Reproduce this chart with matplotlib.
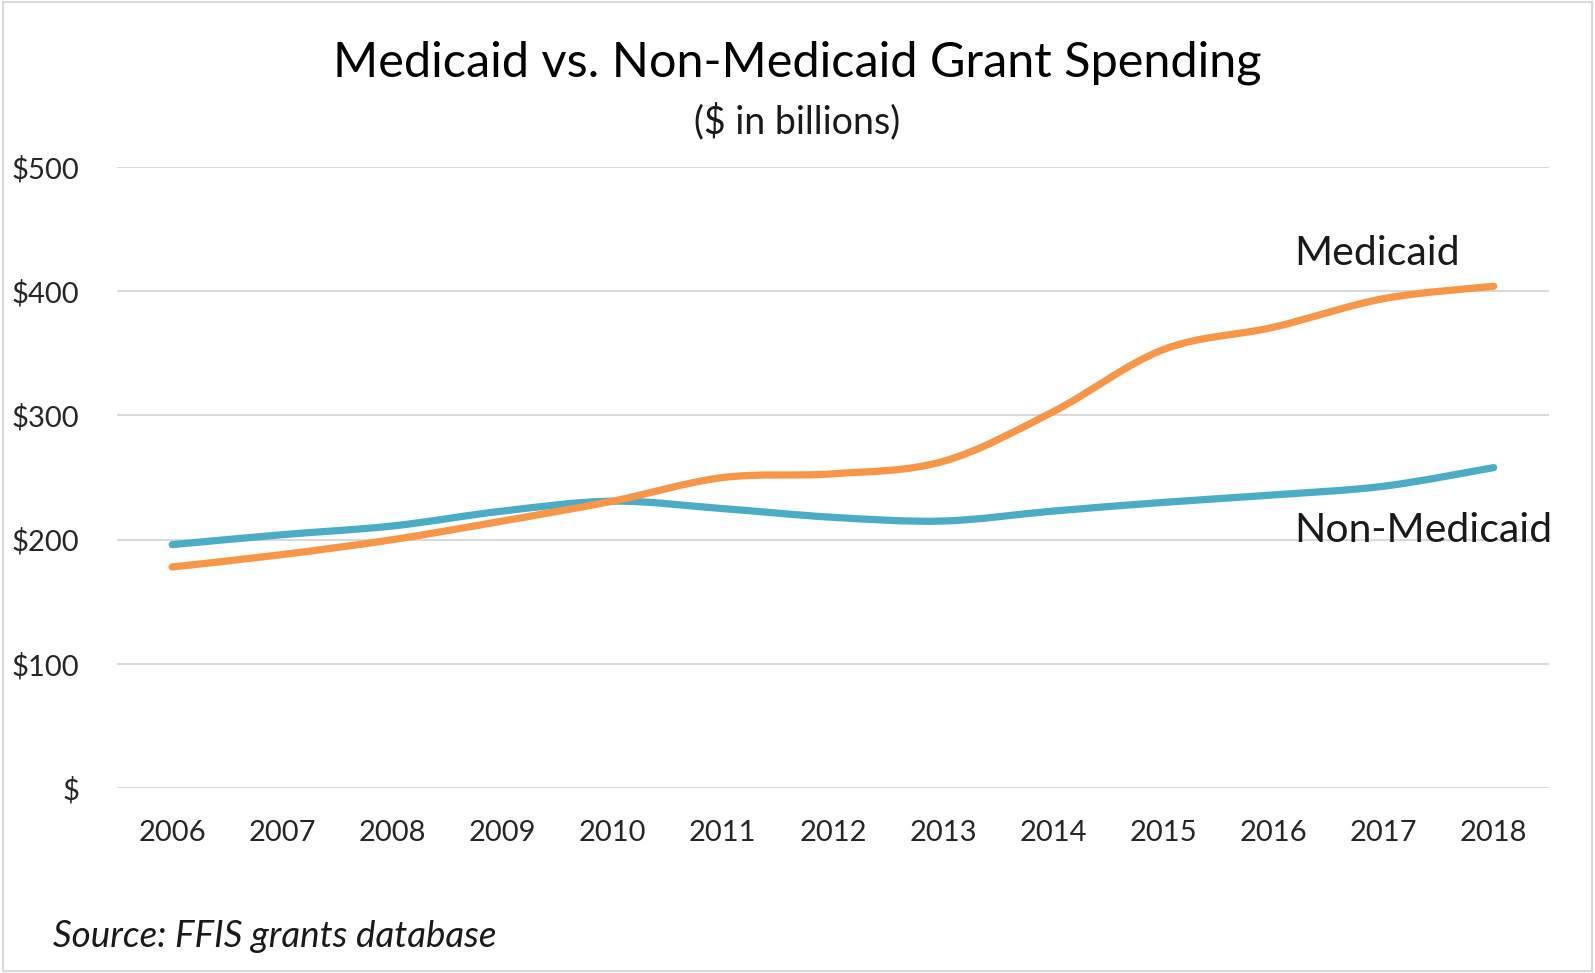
import numpy as np
import matplotlib
matplotlib.use("Agg")
import matplotlib.pyplot as plt
from matplotlib.path import Path
from matplotlib.patches import PathPatch, Rectangle

plt.rcParams['font.family'] = ['Lato', 'DejaVu Sans']

years = [2006, 2007, 2008, 2009, 2010, 2011, 2012, 2013, 2014, 2015, 2016, 2017, 2018]
medicaid = [178, 188, 200, 215, 231, 250, 253, 263, 303, 353, 371, 394, 404]
non_medicaid = [196, 204, 211, 223, 231, 225, 218, 215, 223, 230, 236, 243, 258]
y_ticks = [0, 100, 200, 300, 400, 500]
y_tick_labels = ["$", "$100", "$200", "$300", "$400", "$500"]

ORANGE = "#F79646"
BLUE = "#4BACC6"
GRID = "#D9D9D9"


def smooth_path(xs, ys):
    """Excel-style smoothed line through the points (cubic Bezier, Catmull-Rom)."""
    pts = np.column_stack([xs, ys]).astype(float)
    n = len(pts)
    verts = [pts[0]]
    codes = [Path.MOVETO]
    for i in range(n - 1):
        p0 = pts[i - 1] if i > 0 else pts[i]
        p1 = pts[i]
        p2 = pts[i + 1]
        p3 = pts[i + 2] if i + 2 < n else pts[i + 1]
        c1 = p1 + (p2 - p0) / 6.0
        c2 = p2 - (p3 - p1) / 6.0
        verts += [c1, c2, p2]
        codes += [Path.CURVE4] * 3
    return Path(verts, codes)


fig = plt.figure(figsize=(15.95, 9.73), dpi=100)
fig.patch.set_facecolor("white")
fig.patches.append(Rectangle((0.002, 0.002), 0.996, 0.996, transform=fig.transFigure,
                             fill=False, edgecolor=GRID, linewidth=1.5))

ax = fig.add_axes([0.0734, 0.190, 0.971 - 0.0734, 0.8284 - 0.190])
ax.set_xlim(2005.5, 2018.5)
ax.set_ylim(0, 500)

for v in y_ticks:
    ax.axhline(v, color=GRID, linewidth=1.5, zorder=1)

for vals, col in [(non_medicaid, BLUE), (medicaid, ORANGE)]:
    patch = PathPatch(smooth_path(years, vals), facecolor="none", edgecolor=col,
                      linewidth=5.2, capstyle="round", joinstyle="round", zorder=3)
    ax.add_patch(patch)

for s in ax.spines.values():
    s.set_visible(False)
ax.set_xticks(years)
ax.set_xticklabels([str(y) for y in years], fontsize=21, color="#262626")
ax.set_yticks(y_ticks)
ax.set_yticklabels(y_tick_labels, fontsize=21, color="#262626")
ax.tick_params(axis="both", length=0)
ax.tick_params(axis="x", pad=23)
ax.tick_params(axis="y", pad=27)

ax.text(2016.19, 430.7, "Medicaid", fontsize=29.5, color="#1a1a1a", ha="left", va="center")
ax.text(2016.19, 207, "Non-Medicaid", fontsize=29.5, color="#1a1a1a", ha="left", va="center")

fig.text(0.5, 0.935, "Medicaid vs. Non-Medicaid Grant Spending", fontsize=35,
         color="black", ha="center", va="center")
fig.text(0.5, 0.875, "($ in billions)", fontsize=27, color="#1a1a1a", ha="center", va="center")
fig.text(0.033, 0.038, "Source: FFIS grants database", fontsize=26.5, style="italic",
         color="#1a1a1a", ha="left", va="center")

fig.savefig("out.png", dpi=100)
